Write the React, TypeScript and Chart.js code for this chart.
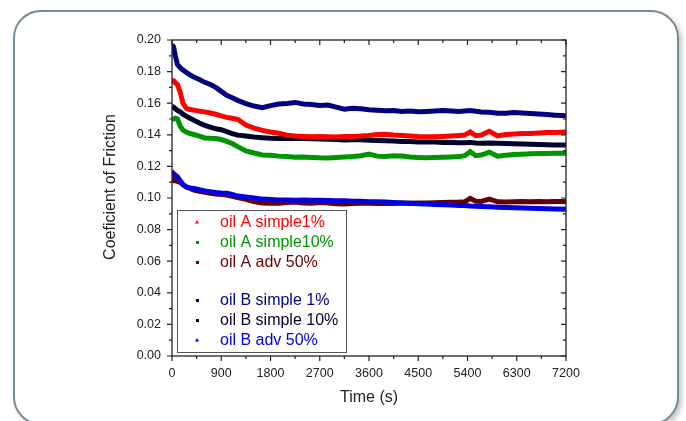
import React, { useEffect, useRef } from "react";
import { Chart, registerables } from "chart.js";

Chart.register(...registerables);

// ---------- data ----------
const TIMES = [
  0, 30, 60, 100, 150, 200, 260, 330, 400, 500, 600, 700, 800, 900, 1000, 1100, 1200,
  1350, 1500, 1650, 1800, 1950, 2100, 2250, 2400, 2550, 2700, 2850, 3000, 3150, 3300,
  3450, 3600, 3750, 3900, 4050, 4200, 4350, 4500, 4650, 4800, 4950, 5100, 5250, 5350,
  5450, 5550, 5650, 5800, 5950, 6100, 6250, 6400, 6550, 6700, 6850, 7000, 7200,
];

const OIL_A_SIMPLE_1 = [
  0.1745, 0.1742, 0.173, 0.1718, 0.167, 0.16, 0.1568, 0.156, 0.1556, 0.155, 0.1545, 0.1538, 0.153, 0.152, 0.151, 0.1505, 0.1498,
  0.1462, 0.1442, 0.1428, 0.1418, 0.141, 0.1398, 0.1392, 0.139, 0.1388, 0.1389, 0.1388, 0.1386, 0.1389, 0.139,
  0.1392, 0.1396, 0.1402, 0.1404, 0.1399, 0.1396, 0.1392, 0.1389, 0.1388, 0.1387, 0.139, 0.1393, 0.1396, 0.1398,
  0.1418, 0.1395, 0.1398, 0.1422, 0.1393, 0.1402, 0.1405, 0.1408, 0.1409, 0.1412, 0.1414, 0.1415, 0.1417,
];

const OIL_A_SIMPLE_10 = [
  0.1495, 0.15, 0.1505, 0.15, 0.1455, 0.143, 0.1418, 0.1408, 0.1402, 0.1392, 0.138, 0.1378, 0.1376, 0.137, 0.1358, 0.1345, 0.1325,
  0.1298, 0.1285, 0.1272, 0.127, 0.1265, 0.1262, 0.1258, 0.126, 0.1257, 0.1254, 0.1253, 0.1256, 0.126, 0.1262,
  0.1268, 0.1278, 0.1265, 0.1262, 0.1268, 0.1266, 0.126, 0.1257, 0.1254, 0.1256, 0.1258, 0.126, 0.1262, 0.1268,
  0.1293, 0.1268, 0.1272, 0.129, 0.1265, 0.127, 0.1275, 0.1277, 0.128, 0.1281, 0.1282, 0.1283, 0.1284,
];

const OIL_A_ADV_50 = [
  0.11, 0.1115, 0.111, 0.1105, 0.1098, 0.1085, 0.1072, 0.106, 0.105, 0.1042, 0.1036, 0.103, 0.1026, 0.1022, 0.1019, 0.101, 0.1003,
  0.0992, 0.0978, 0.0968, 0.0966, 0.0967, 0.0972, 0.0975, 0.0968, 0.0967, 0.0972, 0.0968, 0.0964, 0.0962, 0.0965,
  0.0966, 0.0966, 0.0965, 0.0966, 0.0965, 0.0968, 0.0967, 0.0968, 0.0969, 0.097, 0.0971, 0.0973, 0.0974, 0.0976,
  0.0998, 0.098, 0.0978, 0.0993, 0.0976, 0.0975, 0.0977, 0.0978, 0.0977, 0.0978, 0.0977, 0.0978, 0.0978,
];

const OIL_B_SIMPLE_1 = [
  0.197, 0.1955, 0.19, 0.1845, 0.1825, 0.181, 0.1795, 0.178, 0.1765, 0.175, 0.1732, 0.1718, 0.17, 0.1675, 0.165, 0.1635, 0.1618,
  0.1598, 0.1582, 0.1572, 0.1585, 0.1595, 0.1598, 0.1605, 0.1595, 0.1592, 0.1585, 0.1588, 0.1575, 0.1562, 0.1568,
  0.1565, 0.1558, 0.1555, 0.1552, 0.1554, 0.1548, 0.155, 0.1546, 0.1548, 0.155, 0.1553, 0.155, 0.1548, 0.1551,
  0.1553, 0.1549, 0.1545, 0.1543, 0.1537, 0.1536, 0.1541, 0.1538, 0.1535, 0.1531, 0.1528, 0.1524, 0.152,
];

const OIL_B_SIMPLE_10 = [
  0.158, 0.1575, 0.1565, 0.1555, 0.1545, 0.153, 0.1518, 0.1505, 0.1492, 0.1475, 0.146, 0.1448, 0.1438, 0.1432, 0.142, 0.1408, 0.1398,
  0.1392, 0.1386, 0.1382, 0.1378, 0.1377, 0.1378, 0.1376, 0.1377, 0.1375, 0.1374, 0.1372, 0.137, 0.1367, 0.1368,
  0.1369, 0.1366, 0.1364, 0.1362, 0.136, 0.1358, 0.1357, 0.1355, 0.1355, 0.1354, 0.1352, 0.1352, 0.135, 0.135,
  0.1352, 0.1348, 0.1347, 0.1348, 0.1346, 0.1345, 0.1343, 0.1342, 0.134, 0.1338, 0.1337, 0.1336, 0.1335,
];

const OIL_B_ADV_50 = [
  0.1135, 0.1155, 0.1145, 0.1135, 0.111, 0.1085, 0.107, 0.1063, 0.106, 0.1052, 0.1045, 0.104, 0.1035, 0.1032, 0.103, 0.1022, 0.1012,
  0.1006, 0.1, 0.0993, 0.099, 0.0988, 0.0987, 0.0986, 0.0987, 0.0986, 0.0985, 0.0984, 0.0983, 0.0983, 0.098,
  0.0979, 0.0977, 0.0976, 0.0974, 0.0971, 0.0968, 0.0966, 0.0964, 0.0962, 0.0959, 0.0957, 0.0955, 0.0953, 0.0952,
  0.0949, 0.0947, 0.0946, 0.0944, 0.0942, 0.094, 0.0938, 0.0937, 0.0935, 0.0933, 0.0932, 0.093, 0.0928,
];

const SERIES_NAMES = [
  "oil A simple1%",
  "oil A simple10%",
  "oil A adv 50%",
  "oil B simple 1%",
  "oil B simple 10%",
  "oil B adv 50%",
];
const SERIES_VALUES = [OIL_A_SIMPLE_1, OIL_A_SIMPLE_10, OIL_A_ADV_50, OIL_B_SIMPLE_1, OIL_B_SIMPLE_10, OIL_B_ADV_50];
const SERIES_COLORS = ["#ff0000", "#009400", "#650000", "#000080", "#00002c", "#0000e0"];
const SERIES_ORDER = [2, 4, 1, 5, 3, 0];

const X_MIN = 0;
const X_MAX = 7200;
const X_STEP = 900;
const Y_MIN = 0;
const Y_MAX = 0.2;
const Y_STEP = 0.02;

const X_TITLE = "Time (s)";
const Y_TITLE = "Coeficient of Friction";

const FONT = "'Liberation Sans', Arial, Helvetica, sans-serif";

const framePlugin = {
  id: "frameTicksLegend",
  afterDatasetsDraw(chart: any) {
    const ctx = chart.ctx;
    // legend box
    const lx = 177, ly = 210, lw = 169, lh = 142;
    ctx.save();
    ctx.fillStyle = "#ffffff";
    ctx.fillRect(lx, ly, lw, lh);
    ctx.strokeStyle = "#555555";
    ctx.lineWidth = 1;
    ctx.strokeRect(lx + 0.5, ly + 0.5, lw, lh);
    const rows = [222, 242, 262, 300, 320, 340];
    ctx.font = `16px ${FONT}`;
    ctx.textBaseline = "middle";
    ctx.textAlign = "left";
    SERIES_NAMES.forEach((name, i) => {
      const y = rows[i];
      ctx.fillStyle = SERIES_COLORS[i];
      if (i === 0 || i === 5) {
        ctx.beginPath();
        ctx.moveTo(197, y - 2);
        ctx.lineTo(199, y + 1.5);
        ctx.lineTo(195, y + 1.5);
        ctx.closePath();
        ctx.fill();
      } else {
        ctx.fillRect(196, y - 1, 3, 3);
      }
      ctx.fillText(name, 220, y + 1);
    });
    ctx.restore();
  },
  afterDraw(chart: any) {
    const ctx = chart.ctx;
    const { left, right, top, bottom } = chart.chartArea;
    const xs = chart.scales.x;
    const ys = chart.scales.y;
    ctx.save();
    ctx.strokeStyle = "#222222";
    ctx.lineWidth = 1.3;
    ctx.strokeRect(left, top, right - left, bottom - top);
    ctx.lineWidth = 1.2;
    ctx.beginPath();
    for (let v = X_MIN; v <= X_MAX + 1e-6; v += X_STEP / 2) {
      const major = Math.abs((v / X_STEP) - Math.round(v / X_STEP)) < 1e-6;
      const len = major ? 5 : 3;
      const x = xs.getPixelForValue(v);
      ctx.moveTo(x, bottom);
      ctx.lineTo(x, bottom + len);
      ctx.moveTo(x, top);
      ctx.lineTo(x, top + len);
    }
    for (let k = 0; k <= 20; k++) {
      const v = Y_MIN + k * (Y_STEP / 2);
      const major = k % 2 === 0;
      const len = major ? 5 : 3;
      const y = ys.getPixelForValue(v);
      ctx.moveTo(left, y);
      ctx.lineTo(left - len, y);
      ctx.moveTo(right, y);
      ctx.lineTo(right - len, y);
    }
    ctx.stroke();
    // y title
    ctx.translate(111, 187);
    ctx.rotate(-Math.PI / 2);
    ctx.font = `16px ${FONT}`;
    ctx.fillStyle = "#222222";
    ctx.textAlign = "center";
    ctx.textBaseline = "middle";
    ctx.fillText(Y_TITLE, 0, 0);
    ctx.restore();
  },
};

export default function App() {
  const ref = useRef<HTMLCanvasElement>(null);

  useEffect(() => {
    document.body.style.margin = "0";
    const canvas = ref.current;
    if (!canvas) return;
    const datasets = SERIES_NAMES.map((name, i) => ({
      label: name,
      data: TIMES.map((t, j) => ({ x: t, y: SERIES_VALUES[i][j] })),
      borderColor: SERIES_COLORS[i],
      backgroundColor: SERIES_COLORS[i],
      borderWidth: 5,
      pointRadius: 0,
      tension: 0,
      fill: false,
      showLine: true,
      order: SERIES_ORDER[i],
    }));
    const chart = new Chart(canvas, {
      type: "scatter",
      data: { datasets },
      options: {
        responsive: false,
        animation: false,
        devicePixelRatio: 1,
        layout: { padding: { left: 0, right: 120, top: 40, bottom: 0 } },
        plugins: { legend: { display: false }, tooltip: { enabled: false } },
        scales: {
          x: {
            type: "linear",
            position: "bottom",
            min: X_MIN,
            max: X_MAX,
            grid: { display: false, drawTicks: false },
            border: { display: false },
            ticks: {
              stepSize: X_STEP,
              padding: 10,
              autoSkip: false,
              maxRotation: 0,
              color: "#222222",
              font: { family: FONT, size: 12.5 },
              callback: (v: any) => String(v),
            },
            title: {
              display: true,
              text: X_TITLE,
              color: "#222222",
              font: { family: FONT, size: 16 },
              padding: { top: 0, bottom: 14 },
            },
            afterFit: (s: any) => {
              s.height = 65;
            },
          },
          y: {
            type: "linear",
            min: Y_MIN,
            max: Y_MAX,
            grid: { display: false, drawTicks: false },
            border: { display: false },
            ticks: {
              stepSize: Y_STEP,
              padding: 11,
              color: "#222222",
              font: { family: FONT, size: 12.5 },
              callback: (v: any) => Number(v).toFixed(2),
            },
            afterFit: (s: any) => {
              s.width = 172;
            },
          },
        },
      },
      plugins: [framePlugin],
    } as any);
    return () => chart.destroy();
  }, []);

  return (
    <div style={{ position: "relative", width: 686, height: 421, overflow: "hidden", background: "#ffffff" }}>
      <div
        style={{
          position: "absolute",
          left: 13,
          top: 10,
          width: 662,
          height: 411,
          border: "2px solid #768b97",
          borderRadius: 28,
          boxShadow: "3px 3px 5px rgba(0,0,0,0.22)",
          background: "#ffffff",
        }}
      />
      <canvas
        ref={ref}
        width={686}
        height={421}
        style={{ position: "absolute", left: 0, top: 0, width: 686, height: 421 }}
      />
    </div>
  );
}
